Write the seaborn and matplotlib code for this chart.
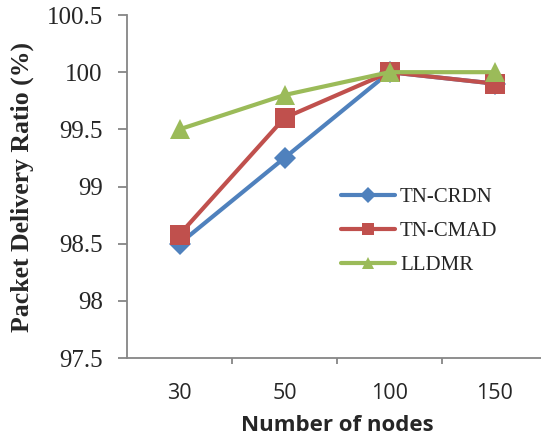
import matplotlib
matplotlib.use("Agg")
import matplotlib.pyplot as plt
import seaborn as sns
import pandas as pd
from matplotlib.lines import Line2D

# Network sizes and delivery ratios per protocol
nodes = ["30", "50", "100", "150"]
tn_crdn = [98.5, 99.25, 100.0, 99.9]
tn_cmad = [98.58, 99.6, 100.0, 99.9]
lldmr = [99.5, 99.8, 100.0, 100.0]
series_names = ["TN-CRDN", "TN-CMAD", "LLDMR"]
colors = ["#4F81BD", "#C0504D", "#9BBB59"]
markers = ["D", "s", "^"]

rows = []
for name, vals in zip(series_names, [tn_crdn, tn_cmad, lldmr]):
    for i, v in enumerate(vals):
        rows.append({"pos": i, "ratio": v, "protocol": name})
df = pd.DataFrame(rows)

sns.set_style("white")
fig = plt.figure(figsize=(5.41, 4.44), dpi=100)
ax = fig.add_axes([127 / 541, 1 - 358 / 444, (547 - 127) / 541, (358 - 15) / 444])

sns.lineplot(data=df, x="pos", y="ratio", hue="protocol", style="protocol",
             hue_order=series_names, style_order=series_names,
             palette=colors, markers=markers, dashes=False,
             linewidth=3.0, markersize=14, markeredgewidth=0,
             legend=False, ax=ax)
# Diamond markers are drawn a bit smaller
for line, m in zip(ax.get_lines(), markers):
    if m == "D":
        line.set_markersize(11)

ax.set_xlim(-0.5, 3.5)
ax.set_ylim(97.5, 100.5)
ax.set_yticks([97.5, 98, 98.5, 99, 99.5, 100, 100.5])
ax.set_yticklabels(["97.5", "98", "98.5", "99", "99.5", "100", "100.5"],
                   fontfamily="Liberation Serif", fontsize=18)
ax.set_xticks(range(len(nodes)))
ax.set_xticklabels(nodes, fontfamily="Open Sans", fontsize=15.5)
ax.set_xticks([0.5, 1.5, 2.5, 3.5], minor=True)

gray = "#868686"
for side in ["top", "right"]:
    ax.spines[side].set_visible(False)
for side in ["left", "bottom"]:
    ax.spines[side].set_color(gray)
    ax.spines[side].set_linewidth(1.3)

ax.tick_params(axis="y", which="major", direction="out", length=6.5, width=1.3,
               color=gray, pad=11, left=True)
ax.tick_params(axis="x", which="major", length=0, pad=18)
ax.tick_params(axis="x", which="minor", direction="out", length=4.5, width=1.3,
               color=gray, bottom=True)

ax.set_xlabel("Number of nodes", fontfamily="Open Sans", fontweight="bold",
              fontsize=16, labelpad=8)
ax.set_ylabel("Packet Delivery Ratio (%)", fontfamily="Liberation Serif",
              fontweight="bold", fontsize=18.5, labelpad=9)

handles = [Line2D([0], [0], color=c, marker=m, lw=3.0, markersize=8,
                  markeredgewidth=0, solid_capstyle="round")
           for c, m in zip(colors, markers)]
ax.legend(handles, series_names, loc="upper left",
          bbox_to_anchor=((322 - 127) / 420, (358 - 169) / 343),
          frameon=False, handlelength=2.6, handletextpad=0.25,
          labelspacing=0.68, prop={"family": "Liberation Serif", "size": 15})

fig.savefig("out.png", dpi=100)
